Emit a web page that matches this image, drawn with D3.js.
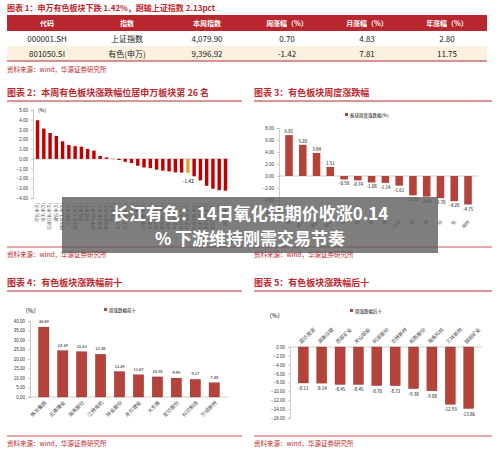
<!DOCTYPE html>
<html><head><meta charset="utf-8">
<script src="https://cdn.jsdelivr.net/npm/d3@7"></script>
<style>body{margin:0;background:#fff}svg{display:block;font-family:"Noto Sans CJK SC",sans-serif}</style>
</head><body><div id="c"></div>
<script>
const tableHead = ['代码', '指数', '本周指数', '周涨幅（%）', '月涨幅（%）', '年涨幅（%）']
const tableRows = [
  ['000001.SH', '上证指数', '4,079.90', '0.70', '4.83', '2.80'],
  ['801050.SI', '有色(申万)', '9,396.92', '-1.42', '7.81', '11.75']
]
const sectors = ['综合', '电子', '石油石化', '通信', '国防军工', '计算机', '基础化工', '煤炭', '传媒', '家用电器', '机械设备', '建筑装饰', '环保', '电力设备', '轻工制造', '汽车', '钢铁', '公用事业', '交通运输', '纺织服饰', '建筑材料', '农林牧渔', '商贸零售', '社会服务', '有色金属', '医药生物', '非银金融', '美容护理', '食品饮料', '银行', '房地产']
const sectorChg = [3.95, 3.1, 2.65, 2.35, 1.8, 1.42, 1.3, 1.25, 1.02, 0.85, 0.3, 0.15, -0.02, -0.12, -0.3, -0.42, -0.7, -0.88, -0.95, -1.1, -1.2, -1.28, -1.38, -1.4, -1.42, -1.78, -2.2, -2.75, -3.05, -3.2, -3.25]
const metals = ['钨', '稀土', '黄金', '铅锌', '铜', '铝', '锡', '镍', '白银', '钼', '锂', '钴', '钛', '磁材']
const metalChg = [6.81, 5.20, 3.84, 1.51, -0.58, -0.74, -1.08, -1.14, -1.61, -3.22, -3.44, -3.70, -4.20, -4.75]
const topNames = ['株冶集团', '云南锗业', '海亮股份', '江特电机', '锌业股份', '永杉锂业', '大东南', '宏达股份', '科达制造', '万顺新材']
const topChg = [36.80, 24.39, 23.83, 22.48, 13.39, 11.67, 10.58, 9.95, 9.27, 7.48]
const lowNames = ['盛达资源', '湖南白银', '西部矿业', '天山铝业', '利源股份', '志特新材', '和胜股份', '海亮科技', '三祥新材', '国城矿业']
const lowChg = [-8.11, -8.14, -8.45, -8.45, -8.70, -8.72, -9.38, -9.88, -12.93, -13.86]

const red = '#c0272d', brown = '#b5433b', src = '资料来源：wind，华源证券研究所'
const svg = d3.select('#c').append('svg').attr('width', 500).attr('height', 460)

function title (x, y, w, t) {
  svg.append('text').attr('x', x).attr('y', y).attr('font-size', 9).attr('font-weight', 'bold').attr('fill', red).text(t)
  svg.append('line').attr('x1', x).attr('x2', x + w).attr('y1', y + 5).attr('y2', y + 5).attr('stroke', red).attr('stroke-width', 1)
}
function source (x, y, w) {
  svg.append('line').attr('x1', x).attr('x2', x + w).attr('y1', y - 10).attr('y2', y - 10).attr('stroke', red).attr('stroke-width', 0.8)
  svg.append('text').attr('x', x).attr('y', y).attr('font-size', 6.5).attr('fill', red).text(src)
}

// table
svg.append('text').attr('x', 7).attr('y', 11).attr('font-size', 8).attr('font-weight', 'bold').attr('fill', red).text('图表 1：申万有色板块下跌 1.42%，跑输上证指数 2.13pct')
const cols = d3.scaleBand().domain(d3.range(6)).range([7, 487])
svg.append('rect').attr('x', 7).attr('y', 15).attr('width', 480).attr('height', 16).attr('fill', '#b8262e')
tableHead.forEach((h, i) => svg.append('text').attr('x', cols(i) + cols.bandwidth() / 2).attr('y', 26).attr('text-anchor', 'middle').attr('font-size', 7).attr('fill', '#fff').attr('font-weight', 'bold').text(h))
tableRows.forEach((r, j) => {
  if (j === 1) svg.append('rect').attr('x', 7).attr('y', 46).attr('width', 480).attr('height', 15).attr('fill', '#fcf1de')
  r.forEach((v, i) => svg.append('text').attr('x', cols(i) + cols.bandwidth() / 2).attr('y', 42 + j * 15).attr('text-anchor', 'middle').attr('font-size', 8).attr('fill', '#222').text(v))
})
svg.append('line').attr('x1', 7).attr('x2', 487).attr('y1', 61).attr('y2', 61).attr('stroke', red)
svg.append('text').attr('x', 7).attr('y', 72).attr('font-size', 6.5).attr('fill', red).text(src)

function axisStyle (g) {
  g.selectAll('text').attr('font-size', 4.5).attr('fill', '#333')
  g.selectAll('line,path').attr('stroke', '#999').attr('stroke-width', 0.5)
}

// chart 2
title(7, 96, 235, '图表 2：本周有色板块涨跌幅位居申万板块第 26 名')
{
  const x = d3.scaleBand().domain(sectors).range([33, 230]).padding(0.45)
  const y = d3.scaleLinear().domain([-4, 5]).range([198, 110])
  svg.append('g').attr('transform', 'translate(33,0)').call(d3.axisLeft(y).ticks(9).tickFormat(d3.format('.2f')).tickSize(2)).call(axisStyle)
  svg.append('line').attr('x1', 33).attr('x2', 230).attr('y1', y(0)).attr('y2', y(0)).attr('stroke', '#999').attr('stroke-width', 0.5)
  svg.append('text').attr('x', 38).attr('y', 112).attr('font-size', 5).text('(%)')
  svg.selectAll('.b2').data(sectors).join('rect').attr('x', d => x(d)).attr('width', x.bandwidth())
    .attr('y', (d, i) => y(Math.max(0, sectorChg[i]))).attr('height', (d, i) => Math.abs(y(sectorChg[i]) - y(0)))
    .attr('fill', d => d === '有色金属' ? '#e6a33a' : '#c00000')
  svg.append('text').attr('x', x('有色金属') + 2).attr('y', y(-1.42) + 10).attr('text-anchor', 'middle').attr('font-size', 5).text('-1.42')
  svg.selectAll('.l2').data(sectors).join('text').attr('font-size', 4).attr('fill', '#555')
    .attr('text-anchor', 'end').attr('dy', '0.35em')
    .attr('transform', d => `translate(${x(d) + x.bandwidth() / 2},203) rotate(-90)`).text(d => d + '(申万)')
  source(7, 257, 235)
}

// chart 3
title(254, 96, 238, '图表 3：有色板块周度涨跌幅')
{
  const x = d3.scaleBand().domain(metals).range([279, 478]).padding(0.45)
  const y = d3.scaleLinear().domain([-6, 8]).range([212, 128])
  svg.append('g').attr('transform', 'translate(279,0)').call(d3.axisLeft(y).ticks(7).tickFormat(d3.format('.2f')).tickSize(2)).call(axisStyle)
  svg.append('line').attr('x1', 279).attr('x2', 478).attr('y1', y(0)).attr('y2', y(0)).attr('stroke', '#999').attr('stroke-width', 0.5)
  svg.append('rect').attr('x', 345).attr('y', 113).attr('width', 3).attr('height', 3).attr('fill', brown)
  svg.append('text').attr('x', 350).attr('y', 116.5).attr('font-size', 4.5).text('板块周度涨跌幅(%)')
  svg.selectAll('.b3').data(metals).join('rect').attr('x', d => x(d)).attr('width', x.bandwidth())
    .attr('y', (d, i) => y(Math.max(0, metalChg[i]))).attr('height', (d, i) => Math.abs(y(metalChg[i]) - y(0))).attr('fill', brown)
  svg.selectAll('.v3').data(metals).join('text').attr('x', d => x(d) + x.bandwidth() / 2)
    .attr('y', (d, i) => metalChg[i] >= 0 ? y(metalChg[i]) - 2 : y(metalChg[i]) + 6)
    .attr('text-anchor', 'middle').attr('font-size', 4.5).text((d, i) => metalChg[i].toFixed(2))
  svg.selectAll('.l3').data(metals).join('text').attr('font-size', 4.5).attr('fill', '#555').attr('text-anchor', 'end')
    .attr('transform', d => `translate(${x(d) + x.bandwidth() / 2 + 2},222) rotate(-45)`).text(d => d)
  source(254, 257, 238)
}

// chart 4
title(7, 286, 235, '图表 4：有色板块涨跌幅前十')
{
  const x = d3.scaleBand().domain(topNames).range([30, 228]).padding(0.45)
  const y = d3.scaleLinear().domain([0, 40]).range([397, 321])
  svg.append('g').attr('transform', 'translate(30,0)').call(d3.axisLeft(y).ticks(8).tickFormat(d3.format('.2f')).tickSize(2)).call(axisStyle)
  svg.append('line').attr('x1', 30).attr('x2', 228).attr('y1', y(0)).attr('y2', y(0)).attr('stroke', '#999').attr('stroke-width', 0.5)
  svg.append('text').attr('x', 22).attr('y', 313).attr('font-size', 6).text('（%）')
  svg.append('rect').attr('x', 104).attr('y', 308).attr('width', 3).attr('height', 3).attr('fill', brown)
  svg.append('text').attr('x', 109).attr('y', 311.5).attr('font-size', 4.5).text('周涨跌幅前十')
  svg.selectAll('.b4').data(topNames).join('rect').attr('x', d => x(d)).attr('width', x.bandwidth())
    .attr('y', (d, i) => y(topChg[i])).attr('height', (d, i) => y(0) - y(topChg[i])).attr('fill', brown).attr('stroke', '#7a1f1a').attr('stroke-width', 0.3)
  svg.selectAll('.v4').data(topNames).join('text').attr('x', d => x(d) + x.bandwidth() / 2).attr('y', (d, i) => y(topChg[i]) - 4)
    .attr('text-anchor', 'middle').attr('font-size', 4).text((d, i) => topChg[i].toFixed(2))
  svg.selectAll('.l4').data(topNames).join('text').attr('font-size', 5).attr('fill', '#444').attr('text-anchor', 'end')
    .attr('transform', d => `translate(${x(d) + x.bandwidth() / 2 + 3},403) rotate(-45)`).text(d => d)
  source(7, 446, 235)
}

// chart 5
title(254, 286, 238, '图表 5：有色板块涨跌幅后十')
{
  const x = d3.scaleBand().domain(lowNames).range([290, 482]).padding(0.45)
  const y = d3.scaleLinear().domain([-16, 0]).range([418, 347])
  svg.append('g').attr('transform', 'translate(290,0)').call(d3.axisLeft(y).ticks(8).tickFormat(d3.format('.2f')).tickSize(2)).call(axisStyle)
  svg.append('line').attr('x1', 290).attr('x2', 482).attr('y1', y(0)).attr('y2', y(0)).attr('stroke', '#999').attr('stroke-width', 0.5)
  svg.append('text').attr('x', 266).attr('y', 318).attr('font-size', 6).text('（%）')
  svg.append('rect').attr('x', 350).attr('y', 309).attr('width', 3).attr('height', 3).attr('fill', brown)
  svg.append('text').attr('x', 355).attr('y', 312.5).attr('font-size', 4.5).text('周涨跌幅后十')
  svg.selectAll('.b5').data(lowNames).join('rect').attr('x', d => x(d)).attr('width', x.bandwidth())
    .attr('y', y(0)).attr('height', (d, i) => y(lowChg[i]) - y(0)).attr('fill', brown).attr('stroke', '#7a1f1a').attr('stroke-width', 0.3)
  svg.selectAll('.v5').data(lowNames).join('text').attr('x', d => x(d) + x.bandwidth() / 2).attr('y', (d, i) => y(lowChg[i]) + 7)
    .attr('text-anchor', 'middle').attr('font-size', 4.5).text((d, i) => lowChg[i].toFixed(2))
  svg.selectAll('.l5').data(lowNames).join('text').attr('font-size', 5).attr('fill', '#444')
    .attr('transform', d => `translate(${x(d) + x.bandwidth() / 2 - 2},344) rotate(-45)`).text(d => d)
  source(254, 446, 238)
}

// banner
svg.append('rect').attr('x', 62).attr('y', 197).attr('width', 376).attr('height', 56).attr('fill', 'rgba(90,90,90,0.78)')
svg.append('text').attr('x', 250).attr('y', 220).attr('text-anchor', 'middle').attr('font-size', 17).attr('font-weight', 'bold').attr('fill', '#fff').text('长江有色：14日氧化铝期价收涨0.14')
svg.append('text').attr('x', 250).attr('y', 245).attr('text-anchor', 'middle').attr('font-size', 17).attr('font-weight', 'bold').attr('fill', '#fff').text('% 下游维持刚需交易节奏')
</script></body></html>
